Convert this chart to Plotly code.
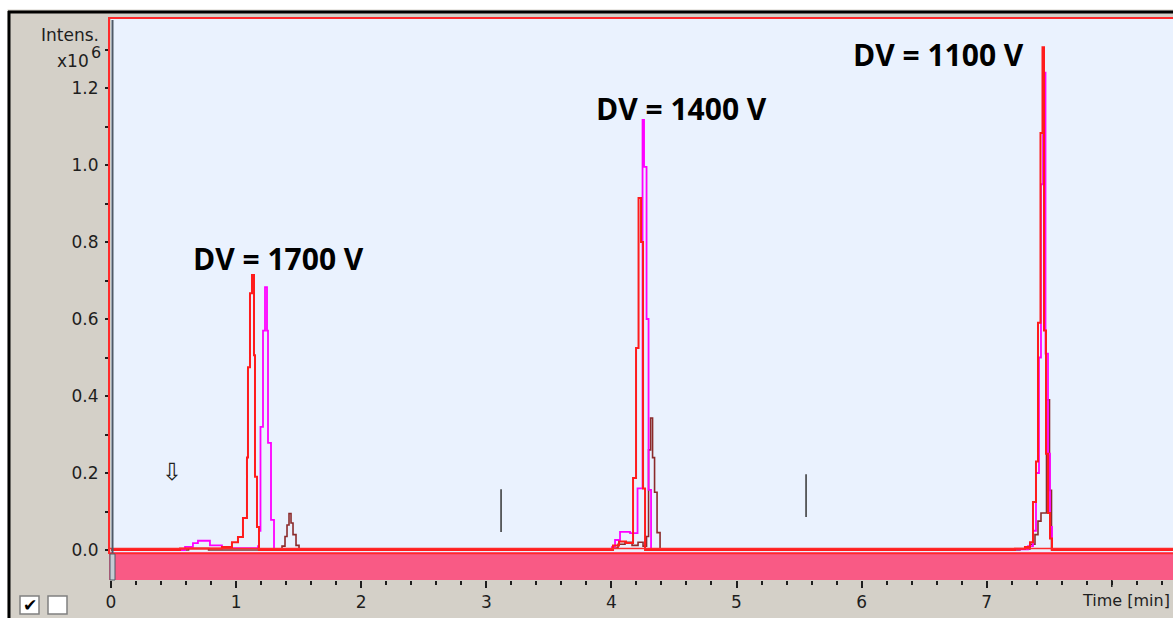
import plotly.graph_objects as go

# ---- chromatogram traces (time in min, intensity in units of 1e6) ----
red_time = [0.0, 0.552, 0.887, 0.967, 1.015, 1.055, 1.087, 1.095, 1.111, 1.127, 1.143, 1.151, 1.167, 1.183,
            4.013, 4.061, 4.117, 4.173, 4.197, 4.217, 4.237, 4.253, 4.269,
            7.226, 7.306, 7.346, 7.370, 7.394, 7.410, 7.430, 7.446, 7.458, 7.474, 7.490, 7.506, 7.522, 8.49]
red_int = [0.0, 0.004, 0.008, 0.020, 0.034, 0.083, 0.240, 0.475, 0.667, 0.714, 0.506, 0.190, 0.060, 0.0,
           0.012, 0.022, 0.018, 0.187, 0.525, 0.914, 0.800, 0.160, 0.0,
           0.003, 0.008, 0.020, 0.125, 0.230, 0.590, 1.083, 1.306, 0.570, 0.250, 0.096, 0.030, 0.0, 0.0]

magenta_time = [0.0, 0.592, 0.655, 0.695, 0.791, 0.887, 1.175, 1.183, 1.195, 1.215, 1.231, 1.247, 1.255, 1.279, 1.303,
                4.005, 4.029, 4.069, 4.149, 4.209, 4.249, 4.261, 4.281, 4.297, 4.317,
                7.226, 7.330, 7.370, 7.394, 7.418, 7.434, 7.450, 7.470, 7.490, 7.506, 7.522, 8.49]
magenta_int = [0.0, 0.008, 0.018, 0.024, 0.012, 0.005, 0.010, 0.050, 0.320, 0.570, 0.683, 0.570, 0.278, 0.078, 0.0,
               0.008, 0.026, 0.047, 0.044, 0.160, 1.117, 0.995, 0.600, 0.156, 0.0,
               0.002, 0.010, 0.050, 0.200, 0.500, 0.950, 1.240, 0.510, 0.250, 0.060, 0.0, 0.0]

brown_time = [0.0, 0.620, 0.780, 1.367, 1.391, 1.407, 1.423, 1.439, 1.455, 1.479, 1.503,
              4.005, 4.053, 4.109, 4.165, 4.213, 4.253, 4.281, 4.297, 4.313, 4.329, 4.345, 4.365, 4.389,
              7.266, 7.346, 7.386, 7.410, 7.434, 7.478, 7.502, 7.518, 8.49]
brown_int = [0.0, 0.004, 0.0, 0.010, 0.035, 0.065, 0.095, 0.070, 0.040, 0.012, 0.0,
             0.005, 0.015, 0.020, 0.012, 0.020, 0.010, 0.035, 0.260, 0.343, 0.240, 0.150, 0.045, 0.0,
             0.003, 0.015, 0.040, 0.075, 0.096, 0.390, 0.155, 0.0, 0.0]

# ---- labels ----
segment_labels = ["DV = 1700 V", "DV = 1400 V", "DV = 1100 V"]
segment_label_pos = [(0.64, 0.758), (3.862, 1.148), (5.916, 1.286)]
segment_marks = [(3.118, 0.047, 0.158), (5.556, 0.086, 0.197)]
x_ticks = [0, 1, 2, 3, 4, 5, 6, 7]
x_ticktext = ["0", "1", "2", "3", "4", "5", "6", "7"]

W, H = 1173, 618
ML, MR, MT, MB = 111, 0, 19, 38
PW, PH = W - ML - MR, H - MT - MB
X_PER = 125.1
X_MAX = PW / X_PER
Y_PER = 385.0
Y_MIN = -(H - MB - 550) / Y_PER
Y_MAX = (550 - MT) / Y_PER


def px(x):
    return (x - ML) / PW


def py(y):
    return (H - MB - y) / PH


GRAY = "#d4d0c8"
TXT = "#1e1e1e"
FONT = "DejaVu Sans"

fig = go.Figure()
for t, v, c, w in [(brown_time, brown_int, "#8b2b2b", 1.6),
                   (magenta_time, magenta_int, "#ff00ff", 1.8),
                   (red_time, red_int, "#ff1c1c", 2.0)]:
    fig.add_trace(go.Scatter(x=t, y=v, mode="lines", line=dict(color=c, width=w, shape="hv"),
                             hoverinfo="skip", showlegend=False, cliponaxis=True))

shapes = []
# window frame
shapes.append(dict(type="rect", xref="paper", yref="paper", x0=px(0), x1=px(W), y0=py(0), y1=py(9.5),
                   fillcolor="white", line_width=0, layer="below"))
shapes.append(dict(type="rect", xref="paper", yref="paper", x0=px(0), x1=px(7.5), y0=py(0), y1=py(H),
                   fillcolor="white", line_width=0, layer="below"))
shapes.append(dict(type="line", xref="paper", yref="paper", x0=px(8), x1=px(W), y0=py(12), y1=py(12),
                   line=dict(color="black", width=3)))
shapes.append(dict(type="line", xref="paper", yref="paper", x0=px(9), x1=px(9), y0=py(11), y1=py(H),
                   line=dict(color="black", width=3)))
# pink band under the trace area
shapes.append(dict(type="rect", xref="paper", yref="paper", x0=px(109), x1=px(W), y0=py(580), y1=py(552),
                   fillcolor="#f95a85", line_width=0, layer="below"))
# red frame of the trace area
shapes.append(dict(type="line", xref="paper", yref="paper", x0=px(108), x1=px(W), y0=py(18), y1=py(18),
                   line=dict(color="#ff2a2a", width=2)))
shapes.append(dict(type="line", xref="paper", yref="paper", x0=px(109), x1=px(109), y0=py(17), y1=py(554),
                   line=dict(color="#ff2a2a", width=2)))
shapes.append(dict(type="line", xref="paper", yref="paper", x0=px(109), x1=px(W), y0=py(553.5), y1=py(553.5),
                   line=dict(color="#ff2a2a", width=1.5)))
shapes.append(dict(type="line", xref="paper", yref="paper", x0=px(109), x1=px(W), y0=py(548.5), y1=py(548.5),
                   line=dict(color="#ff2a2a", width=1.5)))
# vertical axis bar
shapes.append(dict(type="line", xref="paper", yref="paper", x0=px(112.5), x1=px(112.5), y0=py(20), y1=py(553),
                   line=dict(color="#4f5a66", width=2)))
shapes.append(dict(type="rect", xref="paper", yref="paper", x0=px(110), x1=px(115), y0=py(580), y1=py(554),
                   fillcolor="#c4ccd4", line=dict(color="#4f5a66", width=1)))
# major tick at 8 min (its label place is taken by the axis title)
shapes.append(dict(type="line", xref="x", yref="paper", x0=8, x1=8, y0=0, y1=-7 / PH,
                   line=dict(color=TXT, width=1.5)))
# segment markers
for t, y0, y1 in segment_marks:
    shapes.append(dict(type="line", xref="x", yref="y", x0=t, x1=t, y0=y0, y1=y1,
                       line=dict(color="#333333", width=1.5)))
# check boxes
for x0, x1 in [(20, 39), (48, 67)]:
    shapes.append(dict(type="rect", xref="paper", yref="paper", x0=px(x0), x1=px(x1), y0=py(614), y1=py(596),
                       fillcolor="white", line=dict(color="#808080", width=1.5)))

annotations = []
for text, (t, v) in zip(segment_labels, segment_label_pos):
    annotations.append(dict(x=t, y=v, xref="x", yref="y", text=f"<b>{text}</b>", showarrow=False,
                            xanchor="left", yanchor="middle",
                            font=dict(family="Open Sans", size=30, color="black")))
annotations += [
    dict(x=px(101), y=py(35), xref="paper", yref="paper", text="Intens.", showarrow=False,
         xanchor="right", yanchor="middle", font=dict(family=FONT, size=17, color=TXT)),
    dict(x=px(91), y=py(61), xref="paper", yref="paper", text="x10", showarrow=False,
         xanchor="right", yanchor="middle", font=dict(family=FONT, size=17, color=TXT)),
    dict(x=px(89), y=py(52), xref="paper", yref="paper", text="6", showarrow=False,
         xanchor="left", yanchor="middle", font=dict(family=FONT, size=16, color=TXT)),
    dict(x=px(1172), y=py(600), xref="paper", yref="paper", text="Time [min]", showarrow=False,
         xanchor="right", yanchor="middle", font=dict(family=FONT, size=16, color=TXT)),
    dict(x=px(172), y=py(472), xref="paper", yref="paper", text="\u21e9", showarrow=False,
         xanchor="center", yanchor="middle", font=dict(family=FONT, size=24, color="#222222")),
    dict(x=px(29.5), y=py(605), xref="paper", yref="paper", text="<b>\u2714</b>", showarrow=False,
         xanchor="center", yanchor="middle", font=dict(family=FONT, size=17, color="black")),
]

fig.update_layout(
    width=W, height=H,
    margin=dict(l=ML, r=MR, t=MT, b=MB, pad=0),
    paper_bgcolor=GRAY, plot_bgcolor="#eaf2fe",
    shapes=shapes, annotations=annotations,
    xaxis=dict(range=[0, X_MAX], tickmode="array", tickvals=x_ticks, ticktext=x_ticktext,
               ticks="outside", ticklen=7,
               tickwidth=1.5, tickcolor=TXT, showgrid=False, zeroline=False, showline=False,
               tickfont=dict(family=FONT, size=17, color=TXT),
               minor=dict(dtick=0.2, tick0=0, ticks="outside", ticklen=4, tickwidth=1.5, tickcolor=TXT,
                          showgrid=False)),
    yaxis=dict(range=[Y_MIN, Y_MAX], tickmode="linear", tick0=0, dtick=0.2, tickformat=".1f",
               ticks="outside", ticklen=5,
               tickwidth=1.5, tickcolor=TXT, showgrid=False, zeroline=False, showline=False,
               ticklabelstandoff=3,
               tickfont=dict(family=FONT, size=17, color=TXT),
               minor=dict(dtick=0.1, tick0=0, ticks="outside", ticklen=5, tickwidth=1.5, tickcolor=TXT,
                          showgrid=False)),
)

fig.write_html("out.html")
